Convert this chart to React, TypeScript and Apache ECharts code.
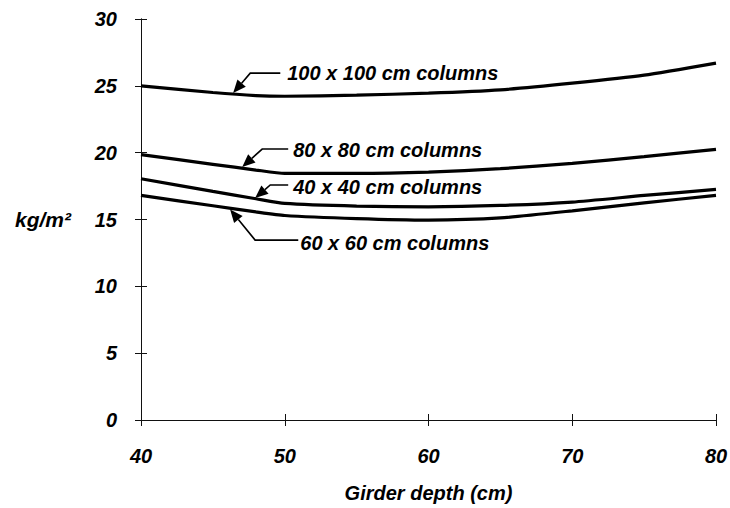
import React, { useEffect, useRef } from "react";
import * as echarts from "echarts";

const xDepth = [40, 45, 48, 50, 55, 60, 65, 70, 75, 80];
const col100 = [25.0, 24.5, 24.27, 24.22, 24.3, 24.45, 24.7, 25.2, 25.8, 26.7];
const col80 = [19.85, 19.13, 18.7, 18.45, 18.45, 18.55, 18.8, 19.2, 19.7, 20.25];
const col40 = [18.05, 17.1, 16.55, 16.2, 16.0, 15.95, 16.05, 16.3, 16.8, 17.25];
const col60 = [16.8, 16.03, 15.57, 15.3, 15.07, 14.96, 15.12, 15.65, 16.25, 16.8];

const seriesNames = ["100 x 100 cm columns", "80 x 80 cm columns", "40 x 40 cm columns", "60 x 60 cm columns"];
const seriesValues = [col100, col80, col40, col60];

// annotation anchors in data coordinates: text left point, leader start, bend, arrow tip
const annoText = [[50.17, 25.95], [50.59, 20.19], [50.59, 17.43], [51.08, 13.24]];
const annoStart = [[49.69, 25.95], [50.24, 20.27], [50.24, 17.58], [50.94, 13.46]];
const annoBend = [[47.6, 25.95], [48.43, 20.27], [48.99, 17.58], [47.94, 13.46]];
const annoTip = [[46.41, 24.46], [47.04, 18.92], [47.94, 16.6], [46.2, 15.75]];

const xTicks = { min: 40, max: 80, interval: 10 };
const yTicks = { min: 0, max: 30, interval: 5 };

const FONT = "'Liberation Sans', Arial, sans-serif";

export default function App() {
  const ref = useRef<HTMLDivElement>(null);
  useEffect(() => {
    if (!ref.current) return;
    const chart = echarts.init(ref.current, undefined, { renderer: "svg" });
    const labelStyle = {
      color: "#000",
      fontFamily: FONT,
      fontWeight: "bold" as const,
      fontStyle: "italic" as const,
      fontSize: 20,
    };
    const axisLine = { show: true, lineStyle: { color: "#111", width: 1 } };
    const baseX = {
      type: "value",
      min: xTicks.min,
      max: xTicks.max,
      interval: xTicks.interval,
      splitLine: { show: false },
      axisLine,
      position: "bottom",
    };
    const baseY = {
      type: "value",
      min: yTicks.min,
      max: yTicks.max,
      interval: yTicks.interval,
      splitLine: { show: false },
      axisLine,
      position: "left",
    };
    chart.setOption({
      animation: false,
      backgroundColor: "#fff",
      grid: { left: 141, right: 14, top: 19, bottom: 88, containLabel: false, outerBoundsMode: "none" },
      xAxis: [
        {
          ...baseX,
          axisTick: { show: true, inside: false, length: 6, lineStyle: { color: "#111" } },
          axisLabel: { ...labelStyle, margin: 26 },
          name: "Girder depth (cm)",
          nameLocation: "middle",
          nameGap: 63,
          nameTextStyle: { ...labelStyle, fontSize: 20 },
        },
        {
          ...baseX,
          axisTick: { show: true, inside: true, length: 6, lineStyle: { color: "#111" } },
          axisLabel: { show: false },
        },
      ],
      yAxis: [
        {
          ...baseY,
          axisTick: { show: true, inside: false, length: 6, lineStyle: { color: "#111" } },
          axisLabel: { ...labelStyle, margin: 24 },
        },
        {
          ...baseY,
          axisTick: { show: true, inside: true, length: 6, lineStyle: { color: "#111" } },
          axisLabel: { show: false },
        },
      ],
      series: seriesNames.map((name, i) => ({
        name,
        type: "line",
        xAxisIndex: 0,
        yAxisIndex: 0,
        data: xDepth.map((x, j) => [x, seriesValues[i][j]]),
        showSymbol: false,
        smooth: 0.2,
        lineStyle: { color: "#000", width: 3.2 },
      })),
    });

    const px = (p: number[]) => chart.convertToPixel({ gridIndex: 0 }, p) as number[];
    const graphics: any[] = [];
    for (let i = 0; i < seriesNames.length; i++) {
      const t = px(annoText[i]);
      const s = px(annoStart[i]);
      const b = px(annoBend[i]);
      const tip = px(annoTip[i]);
      const dx = tip[0] - b[0];
      const dy = tip[1] - b[1];
      const len = Math.sqrt(dx * dx + dy * dy);
      const ux = dx / len;
      const uy = dy / len;
      const L = 13;
      const W = 5.5;
      const base = [tip[0] - ux * L, tip[1] - uy * L];
      graphics.push({
        type: "polyline",
        shape: { points: [s, b, base] },
        style: { stroke: "#000", lineWidth: 1.6, fill: null },
      });
      graphics.push({
        type: "polygon",
        shape: {
          points: [
            tip,
            [base[0] - uy * W, base[1] + ux * W],
            [base[0] + uy * W, base[1] - ux * W],
          ],
        },
        style: { fill: "#000" },
      });
      graphics.push({
        type: "text",
        x: t[0],
        y: t[1],
        style: {
          text: seriesNames[i],
          fill: "#000",
          font: `italic bold 20px ${FONT}`,
          verticalAlign: "middle",
          align: "left",
        },
      });
    }
    graphics.push({
      type: "text",
      x: 43,
      y: 219,
      style: {
        text: "kg/m²",
        fill: "#000",
        font: `italic bold 21px ${FONT}`,
        verticalAlign: "middle",
        align: "center",
      },
    });
    chart.setOption({ graphic: graphics });
    return () => chart.dispose();
  }, []);
  return (
    <div
      ref={ref}
      style={{ position: "fixed", left: 0, top: 0, width: 730, height: 508, background: "#fff" }}
    />
  );
}
